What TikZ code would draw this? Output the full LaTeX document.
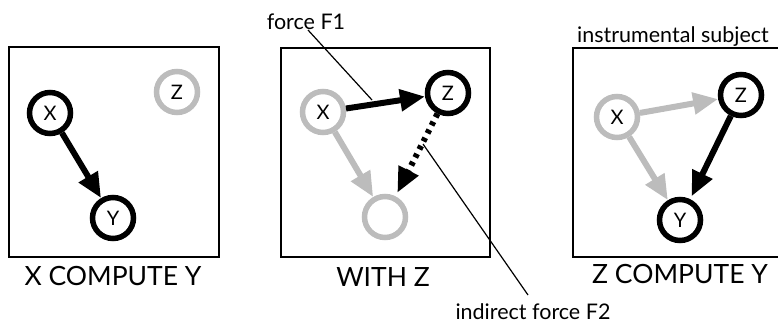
\documentclass[tikz,border=0pt]{standalone}
\usepackage{fontspec}
\setmainfont{Lato}
\usetikzlibrary{arrows.meta}
\definecolor{lg}{RGB}{188,188,188}
\begin{document}
\begin{tikzpicture}[x=1pt,y=-1pt,
 nd/.style={circle, minimum size=41pt, inner sep=0pt, line width=5.5pt, font=\fontsize{20}{20}\selectfont},
 on/.style={nd, draw=black},
 off/.style={nd, draw=lg},
 frame/.style={draw, line width=2pt},
 captxt/.style={font=\fontsize{26.5}{26.5}\selectfont},
 lab/.style={font=\fontsize{21.5}{21.5}\selectfont},
 arr/.style={line width=6pt, -{Triangle[length=25pt,width=21pt]}},
 blk/.style={arr, draw=black},
 gry/.style={arr, draw=lg},
 ptr/.style={line width=1.2pt}]
\useasboundingbox (0,0) rectangle (778,324);
% frames
\draw[frame] (9,47) rectangle (219,257);
\draw[frame] (281,48) rectangle (490,257);
\draw[frame] (573,48) rectangle (790,257);
% panel 1
\node[on] (x1) at (50,113) {X};
\node[on] (y1) at (113,218) {Y};
\node[off] (z1) at (177,92) {Z};
\draw[blk] (x1) -- (y1);
\node[captxt, anchor=base] (c1) at (113,285) {X COMPUTE Y};
% panel 2
\node[off] (x2) at (323,112) {X};
\node[on] (z2) at (448,93) {Z};
\node[off] (b2) at (385,217) {};
\draw[gry] (x2) -- (b2);
\draw[blk] (x2) -- (z2);
\draw[arr, draw=black, dash pattern=on 4pt off 5pt, shorten >=4pt] (z2) -- (b2);
\node[captxt, anchor=base] (c2) at (383,286) {WITH Z};
\node[lab, anchor=base] (f1) at (306,29) {force F1};
\node[lab, anchor=base west] (f2) at (452,319) {indirect force F2};
\coordinate (f1a) at (308,30);
\coordinate (f1b) at (372,100);
\coordinate (f2a) at (423,144);
\coordinate (f2b) at (528,295);
\draw[ptr] (f1a) -- (f1b);
\draw[ptr] (f2a) -- (f2b);
% panel 3
\node[off] (x3) at (617,117) {X};
\node[on] (z3) at (741,95) {Z};
\node[on] (y3) at (680,220) {Y};
\draw[gry] (x3) -- (z3);
\draw[gry] (x3) -- (y3);
\draw[blk, shorten >=3pt] (z3) -- (y3);
\node[captxt, anchor=base] (c3) at (680,283) {Z COMPUTE Y};
\node[lab, anchor=base] (is) at (673,42) {instrumental subject};
\end{tikzpicture}
\end{document}
